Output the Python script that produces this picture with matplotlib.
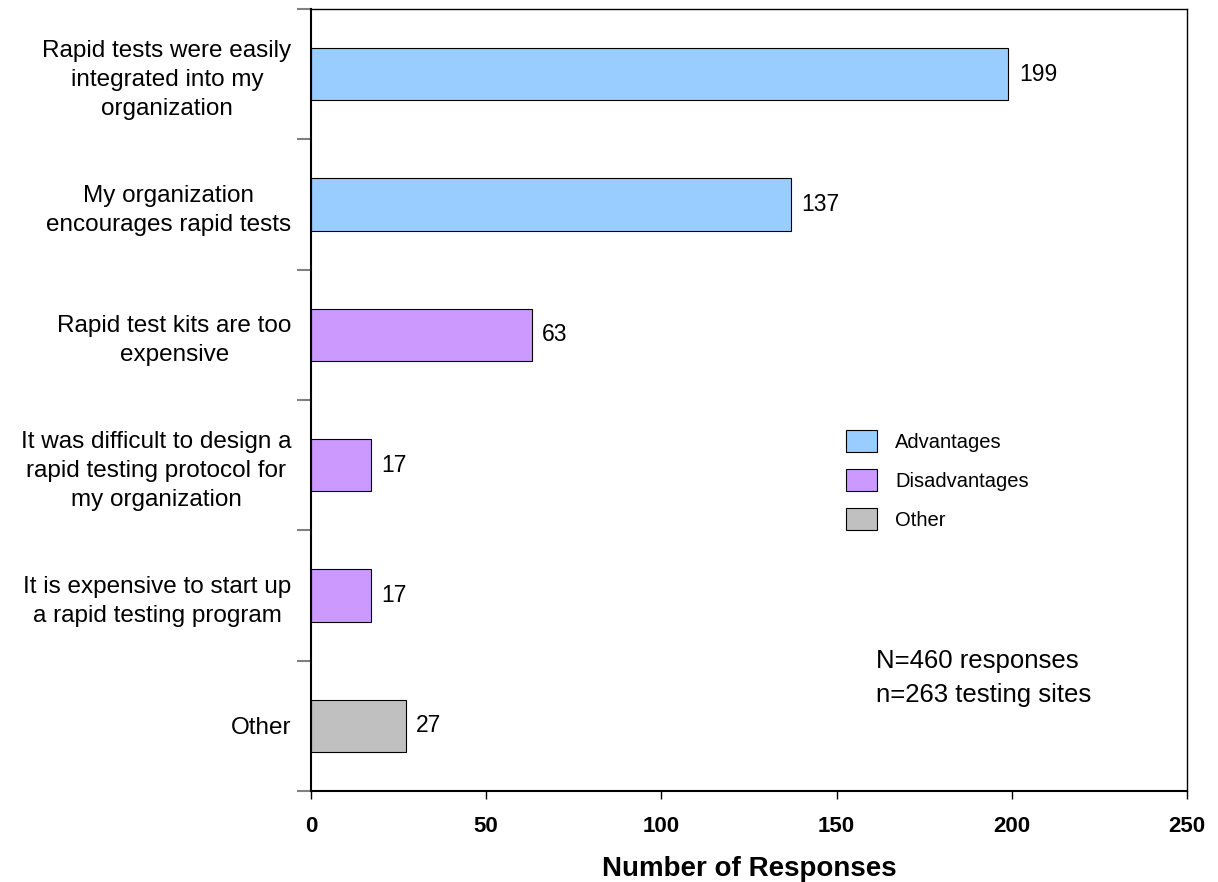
import matplotlib.pyplot as plt
from matplotlib.patches import Patch
from matplotlib.ticker import FixedLocator

plt.rcParams['font.family'] = ['Liberation Sans', 'DejaVu Sans']

# survey answers, top to bottom
categories = [
    "Rapid tests were easily\nintegrated into my\norganization",
    "My organization\nencourages rapid tests",
    "Rapid test kits are too\nexpensive",
    "It was difficult to design a\nrapid testing protocol for\nmy organization",
    "It is expensive to start up\na rapid testing program",
    "Other",
]
responses = [199, 137, 63, 17, 17, 27]
groups = ["Advantages", "Advantages", "Disadvantages", "Disadvantages",
          "Disadvantages", "Other"]
group_colors = {"Advantages": "#99CCFF", "Disadvantages": "#CC99FF",
                "Other": "#C0C0C0"}
x_ticks = [0, 50, 100, 150, 200, 250]

fig = plt.figure(figsize=(12.18, 8.82), dpi=100)
ax = fig.add_axes([311 / 1218, 1 - 791 / 882, 876 / 1218, 782 / 882])

ypos = list(range(len(categories)))
colors = [group_colors[g] for g in groups]
ax.barh(ypos, responses, height=0.4, color=colors,
        edgecolor="black", linewidth=0.8)

for y, v in zip(ypos, responses):
    ax.text(v + 3, y, str(v), va="center", ha="left", fontsize=16.5)

ax.set_xlim(0, 250)
ax.set_ylim(len(categories) - 0.5, -0.5)
ax.set_xticks(x_ticks)
ax.set_xticklabels([str(t) for t in x_ticks], fontsize=16, fontweight="bold")
ax.tick_params(axis="x", length=6, width=1, pad=12, color="black")

ax.set_yticks(ypos)
ax.set_yticklabels(categories, fontsize=17.5, ha="right", multialignment="center")
for lbl in ax.get_yticklabels():
    lbl.set_linespacing(1.4)
ax.tick_params(axis="y", which="major", length=0, pad=14)
ax.yaxis.set_minor_locator(FixedLocator([i - 0.5 for i in range(len(categories) + 1)]))
ax.tick_params(axis="y", which="minor", length=10, width=1.5, color="#808080")

ax.set_xlabel("Number of Responses", fontsize=20, fontweight="bold", labelpad=14)

for side in ["left", "bottom"]:
    ax.spines[side].set_linewidth(1.5)
for side in ["top", "right"]:
    ax.spines[side].set_linewidth(1.0)

handles = [Patch(facecolor=group_colors[k], edgecolor="black", linewidth=0.8, label=k)
           for k in ["Advantages", "Disadvantages", "Other"]]
ax.legend(handles=handles, loc="upper left",
          bbox_to_anchor=(846 / 1218, 1 - 430 / 882), bbox_transform=fig.transFigure,
          frameon=False, fontsize=14.5, handlelength=1.55, handleheight=1.3,
          handletextpad=0.9, labelspacing=0.85, borderpad=0, borderaxespad=0)

ax.text(876 / 1218, 1 - 678 / 882, "N=460 responses\nn=263 testing sites",
        transform=fig.transFigure, fontsize=18.5, va="center", ha="left",
        linespacing=1.5)

fig.savefig("out.png", dpi=100)
